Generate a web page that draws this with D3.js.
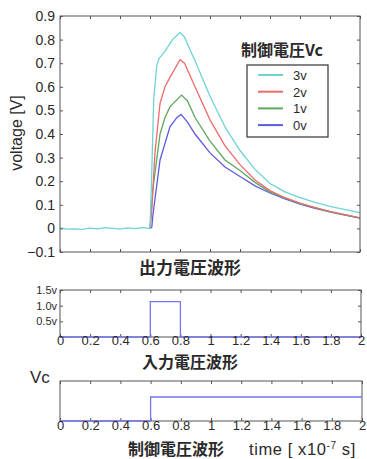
<!DOCTYPE html>
<html>
<head>
<meta charset="utf-8">
<script src="https://cdn.jsdelivr.net/npm/d3@7"></script>
<style>
  body { margin: 0; background: #fff; }
  svg { display: block; font-family: "Liberation Sans", Arial, sans-serif; }
  .jp { font-family: "Noto Sans CJK JP", sans-serif; font-weight: 700; }
</style>
</head>
<body>
<svg id="chart" width="367" height="459"></svg>
<script>
// x axis (time, x10^-7 s)
const timeTicks = [0, 0.2, 0.4, 0.6, 0.8, 1, 1.2, 1.4, 1.6, 1.8, 2];
const timeLabels = ['0', '0.2', '0.4', '0.6', '0.8', '1', '1.2', '1.4', '1.6', '1.8', '2'];

// main y axis
const voltTicks = [-0.1, 0, 0.1, 0.2, 0.3, 0.4, 0.5, 0.6, 0.7, 0.8, 0.9];
const voltLabels = ['\u22120.1', '0', '0.1', '0.2', '0.3', '0.4', '0.5', '0.6', '0.7', '0.8', '0.9'];

// common baseline before the pulse
const baseT = [0, 0.05, 0.1, 0.15, 0.2, 0.25, 0.3, 0.35, 0.4, 0.45, 0.5, 0.55, 0.6];
const baseV = [0.002, -0.003, -0.002, -0.004, 0.001, -0.002, 0.003, 0.0, -0.003, 0.002, -0.001, 0.003, 0.0];

// output voltage per control voltage
const seriesNames = ['3v', '2v', '1v', '0v'];
const seriesColors = ['#6fd3d6', '#ec6c6c', '#5ea85e', '#5b5be0'];

const t3v = [0.6, 0.61, 0.625, 0.645, 0.66, 0.7, 0.75, 0.8, 0.83, 0.9, 1.0, 1.1, 1.2, 1.3, 1.4, 1.5, 1.6, 1.7, 1.8, 1.9, 2.0];
const v3v = [0, 0.2, 0.55, 0.69, 0.72, 0.75, 0.8, 0.83, 0.81, 0.71, 0.56, 0.43, 0.33, 0.25, 0.19, 0.155, 0.13, 0.11, 0.093, 0.08, 0.067];

const t2v = [0.6, 0.61, 0.633, 0.667, 0.7, 0.733, 0.8, 0.83, 0.9, 1.0, 1.1, 1.2, 1.3, 1.4, 1.5, 1.6, 1.7, 1.8, 1.9, 2.0];
const v2v = [0, 0.06, 0.32, 0.53, 0.6, 0.64, 0.715, 0.7, 0.6, 0.46, 0.35, 0.27, 0.205, 0.16, 0.13, 0.107, 0.088, 0.072, 0.058, 0.045];

const t1v = [0.6, 0.62, 0.667, 0.7, 0.733, 0.81, 0.85, 0.9, 1.0, 1.1, 1.2, 1.3, 1.4, 1.5, 1.6, 1.7, 1.8, 1.9, 2.0];
const v1v = [0, 0.17, 0.4, 0.47, 0.515, 0.565, 0.54, 0.47, 0.37, 0.29, 0.245, 0.195, 0.155, 0.128, 0.105, 0.088, 0.07, 0.057, 0.045];

const t0v = [0.6, 0.612, 0.62, 0.667, 0.733, 0.78, 0.807, 0.85, 0.9, 1.0, 1.1, 1.2, 1.3, 1.4, 1.5, 1.6, 1.7, 1.8, 1.9, 2.0];
const v0v = [0, 0.005, 0.06, 0.29, 0.43, 0.47, 0.483, 0.45, 0.4, 0.32, 0.26, 0.22, 0.18, 0.15, 0.125, 0.103, 0.085, 0.07, 0.056, 0.044];

// input pulse and control step
const inputT = [0, 0.6, 0.6, 0.8, 0.8, 2];
const inputV = [0, 0, 1.13, 1.13, 0, 0];
const inputTicks = [0.5, 1.0, 1.5];
const inputLabels = ['0.5v', '1.0v', '1.5v'];

const ctrlT = [0, 0.6, 0.6, 2];
const ctrlV = [0, 0, 0.6, 0.6];

const svg = d3.select('#chart');
const lineColor = '#7676ee';
const frame = '#555';
const txt = '#2a2a2a';

function pts(ts, vs) { return ts.map((t, i) => [t, vs[i]]); }

function boxAxes(g, x, y, w, h, yt) {
  g.append('rect').attr('width', w).attr('height', h)
    .attr('fill', 'none').attr('stroke', frame).attr('stroke-width', 1);
  const bot = g.append('g').attr('transform', `translate(0,${h})`)
    .call(d3.axisBottom(x).tickValues(timeTicks).tickSize(-3).tickFormat(''));
  const top = g.append('g')
    .call(d3.axisTop(x).tickValues(timeTicks).tickSize(-3).tickFormat(''));
  [bot, top].forEach(a => { a.select('.domain').remove(); a.selectAll('line').attr('stroke', frame); });
  if (yt) {
    const l = g.append('g').call(d3.axisLeft(y).tickValues(yt).tickSize(-3).tickFormat(''));
    const r = g.append('g').attr('transform', `translate(${w},0)`)
      .call(d3.axisRight(y).tickValues(yt).tickSize(-3).tickFormat(''));
    [l, r].forEach(a => { a.select('.domain').remove(); a.selectAll('line').attr('stroke', frame); });
  }
}

function styleText(sel, size) {
  sel.selectAll('text').attr('font-size', size).attr('fill', txt)
    .attr('font-family', '"Liberation Sans", Arial, sans-serif');
}

// ---- main plot ----
const M = { left: 60, top: 16, w: 300, h: 236 };
const x = d3.scaleLinear().domain([0, 2]).range([0, M.w]);
const y = d3.scaleLinear().domain([-0.1, 0.9]).range([M.h, 0]);
const gm = svg.append('g').attr('transform', `translate(${M.left},${M.top})`);

const line = d3.line().x(d => x(d[0])).y(d => y(d[1]));
const seriesData = [pts(t3v, v3v), pts(t2v, v2v), pts(t1v, v1v), pts(t0v, v0v)];
// draw 0v first so 3v is on top like the reference
for (let i = seriesData.length - 1; i >= 0; i--) {
  gm.append('path').datum(seriesData[i]).attr('d', line)
    .attr('fill', 'none').attr('stroke', seriesColors[i]).attr('stroke-width', 1.3);
}
gm.append('path').datum(pts(baseT, baseV)).attr('d', line)
  .attr('fill', 'none').attr('stroke', seriesColors[0]).attr('stroke-width', 1.3);

boxAxes(gm, x, y, M.w, M.h, voltTicks);

gm.append('g').call(d3.axisLeft(y).tickValues(voltTicks).tickSize(0).tickPadding(5)
  .tickFormat((d, i) => voltLabels[i]))
  .call(a => a.select('.domain').remove())
  .call(a => styleText(a, 14));

svg.append('text').attr('transform', 'translate(22,133) rotate(-90)')
  .attr('text-anchor', 'middle').attr('font-size', 16).attr('fill', txt).text('voltage [V]');

svg.append('text').attr('class', 'jp').attr('x', 190).attr('y', 274)
  .attr('text-anchor', 'middle').attr('font-size', 17).attr('fill', txt).text('出力電圧波形');

// legend
svg.append('text').attr('class', 'jp').attr('x', 282).attr('y', 56)
  .attr('text-anchor', 'middle').attr('font-size', 16).attr('fill', txt).text('制御電圧Vc');
const lg = svg.append('g').attr('transform', 'translate(247,65)');
lg.append('rect').attr('width', 81).attr('height', 72)
  .attr('fill', '#fff').attr('stroke', '#333').attr('stroke-width', 1.2);
seriesNames.forEach((n, i) => {
  const yy = 10 + i * 16.7;
  lg.append('line').attr('x1', 11).attr('x2', 36).attr('y1', yy).attr('y2', yy)
    .attr('stroke', seriesColors[i]).attr('stroke-width', 2);
  lg.append('text').attr('x', 46).attr('y', yy + 5).attr('font-size', 13)
    .attr('fill', txt).text(n);
});

// ---- input pulse plot ----
const P = { left: 60, top: 290, w: 301, h: 47 };
const xp = d3.scaleLinear().domain([0, 2]).range([0, P.w]);
const yp = d3.scaleLinear().domain([0, 1.5]).range([P.h, 0]);
const gp = svg.append('g').attr('transform', `translate(${P.left},${P.top})`);
boxAxes(gp, xp, yp, P.w, P.h, inputTicks);
gp.append('path').datum(pts(inputT, inputV))
  .attr('d', d3.line().x(d => xp(d[0])).y(d => yp(d[1])))
  .attr('fill', 'none').attr('stroke', lineColor).attr('stroke-width', 1.3);
gp.append('g').call(d3.axisLeft(yp).tickValues(inputTicks).tickSize(0).tickPadding(3)
  .tickFormat((d, i) => inputLabels[i]))
  .call(a => a.select('.domain').remove())
  .call(a => styleText(a, 11));
gp.append('g').attr('transform', `translate(0,${P.h})`)
  .call(d3.axisBottom(xp).tickValues(timeTicks).tickSize(0).tickPadding(-1)
    .tickFormat((d, i) => timeLabels[i]))
  .call(a => a.select('.domain').remove())
  .call(a => styleText(a, 13));
svg.append('text').attr('class', 'jp').attr('x', 190).attr('y', 368)
  .attr('text-anchor', 'middle').attr('font-size', 16).attr('fill', txt).text('入力電圧波形');

// ---- control step plot ----
const C = { left: 60, top: 381, w: 302, h: 40 };
const xc = d3.scaleLinear().domain([0, 2]).range([0, C.w]);
const yc = d3.scaleLinear().domain([0, 1]).range([C.h, 0]);
const gc = svg.append('g').attr('transform', `translate(${C.left},${C.top})`);
boxAxes(gc, xc, yc, C.w, C.h, null);
gc.append('path').datum(pts(ctrlT, ctrlV))
  .attr('d', d3.line().x(d => xc(d[0])).y(d => yc(d[1])))
  .attr('fill', 'none').attr('stroke', lineColor).attr('stroke-width', 1.3);
gc.append('g').attr('transform', `translate(0,${C.h})`)
  .call(d3.axisBottom(xc).tickValues(timeTicks).tickSize(0).tickPadding(0)
    .tickFormat((d, i) => timeLabels[i]))
  .call(a => a.select('.domain').remove())
  .call(a => styleText(a, 13));
svg.append('text').attr('x', 30).attr('y', 383).attr('font-size', 17).attr('fill', txt).text('Vc');
svg.append('text').attr('class', 'jp').attr('x', 176).attr('y', 455)
  .attr('text-anchor', 'middle').attr('font-size', 16).attr('fill', txt).text('制御電圧波形');
const tt = svg.append('text').attr('x', 249).attr('y', 455).attr('font-size', 16.5)
  .attr('letter-spacing', 0.6).attr('fill', txt);
tt.append('tspan').text('time [ x10');
tt.append('tspan').attr('dy', -6).attr('font-size', 10).text('-7');
tt.append('tspan').attr('dy', 6).text(' s]');
</script>
</body>
</html>
